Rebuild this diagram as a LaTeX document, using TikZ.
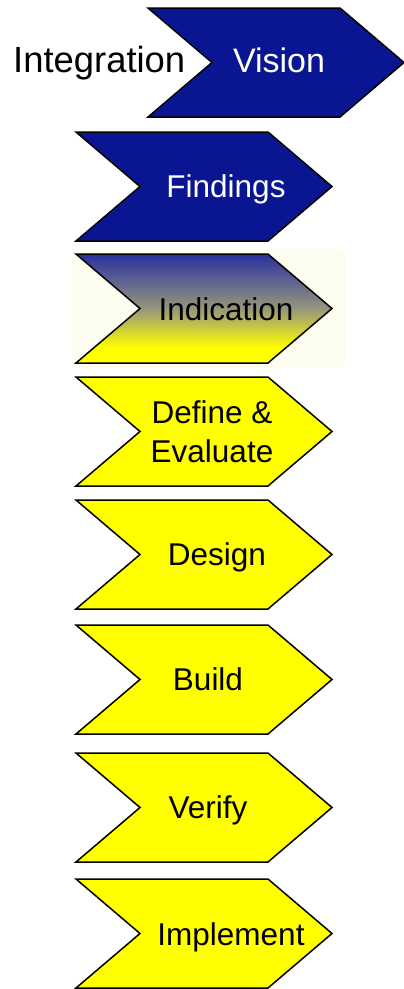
\documentclass[tikz,border=0pt]{standalone}
\usepackage{fontspec}
\setmainfont{Liberation Sans}
\usetikzlibrary{positioning}
\definecolor{bluei}{RGB}{10,22,145}
\definecolor{blueii}{RGB}{42,48,160}
\definecolor{yellowi}{RGB}{255,255,0}
\definecolor{grayi}{RGB}{150,150,125}
\definecolor{glowi}{RGB}{253,253,240}
\pgfdeclareverticalshading{indicationshade}{100bp}{color(0bp)=(yellowi); color(32bp)=(yellowi); color(50bp)=(grayi); color(75bp)=(blueii); color(100bp)=(blueii)}
\tikzset{
      chevron/.style={
        insert path={-- ++(192,0) -- ++(64,54.5) -- ++(-64,54.5) -- ++(-192,0) -- ++(64,-54.5) -- cycle}
      },
      mystepblock/.style={
        draw=black,
        line width=1.5pt,
        line join=miter,
        fill=#1
      },
      mysteplabel/.style 2 args={
        text=#1,
        font=\fontsize{#2}{39}\selectfont,
        align=center,
        inner sep=0pt,
        anchor=base
      },
    }
\begin{document}
\begin{tikzpicture}[x=1pt,y=-1pt]
  \useasboundingbox (0,0) rectangle (404,989);

  %Vision
  \draw[mystepblock=bluei] (148,8) coordinate (vision) [chevron];
  \node[mysteplabel={black}{36.4}, anchor=base west] (integration) at (13,72) {Integration};
  \node[mysteplabel={white}{34}] (visionText) at (279,72) {Vision};

  %Findings
  \draw[mystepblock=bluei] (76,132) coordinate (findings) [chevron];
  \node[mysteplabel={white}{31.5}] (findingsText) at (226,197) {Findings};

  %Indication
  \fill[glowi, rounded corners=8pt] (72,249) rectangle (346,368);
  \shadedraw[mystepblock=none, shading=indicationshade] (76,254) coordinate (indication) [chevron];
  \node[mysteplabel={black}{31.5}] (indicationText) at (226,320) {Indication};

  %Define & Evaluate
  \draw[mystepblock=yellowi] (76,377) coordinate (define) [chevron];
  \node[mysteplabel={black}{31.5}, anchor=center] (defineText) at (212,432) {Define \&\\Evaluate};

  %Design
  \draw[mystepblock=yellowi] (76,500) coordinate (design) [chevron];
  \node[mysteplabel={black}{31.5}] (designText) at (217,565) {Design};

  %Build
  \draw[mystepblock=yellowi] (76,625) coordinate (build) [chevron];
  \node[mysteplabel={black}{31.5}] (buildText) at (208,690) {Build};

  %Verify
  \draw[mystepblock=yellowi] (76,753) coordinate (verify) [chevron];
  \node[mysteplabel={black}{31.5}] (verifyText) at (208,818) {Verify};

  %Implement
  \draw[mystepblock=yellowi] (76,879) coordinate (implement) [chevron];
  \node[mysteplabel={black}{31.5}] (implementText) at (231,945) {Implement};

\end{tikzpicture}
\end{document}
